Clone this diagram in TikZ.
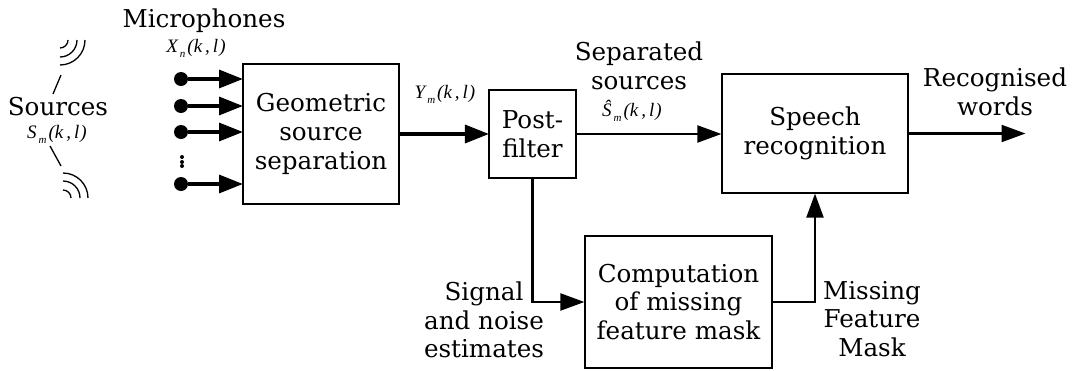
\documentclass[tikz,border=0pt]{standalone}
\usepackage{fontspec}
\setmainfont{DejaVu Serif}
\usetikzlibrary{arrows.meta}
\newfontfamily\mathlike{Liberation Serif}[Ligatures=TeX]
\newcommand{\txtsize}{\fontsize{24.6}{28.6}\selectfont}
\newcommand{\sigfn}[2]{{\fontsize{19}{20}\selectfont\mathlike\itshape #1\kern2pt\raisebox{-5pt}{\fontsize{11}{12}\selectfont #2}\kern2pt(k\kern3pt,\kern3pt l\kern1pt)}}
\tikzset{
  x=1pt,y=-1pt,
  blockbox/.style={draw=black,line width=2.2pt,inner sep=0pt,align=center,font=\txtsize},
  lab/.style={inner sep=0pt,align=center,font=\txtsize},
  sig/.style={inner sep=0pt},
  thick arrow/.style={line width=3.4pt,-{Triangle[length=24pt,width=18pt]},shorten >=-1pt},
  flow/.style={line width=2.2pt,-{Triangle[length=24pt,width=17pt]},shorten >=-0.5pt},
  wave/.style={line width=1.3pt},
  micdot/.style={circle,fill=black,inner sep=0pt,minimum size=14pt},
  tiny dot/.style={circle,fill=black,inner sep=0pt,minimum size=4pt},
}
\begin{document}
\begin{tikzpicture}
\useasboundingbox (0,0) rectangle (1072,370);
\node[blockbox,minimum width=156pt,minimum height=140pt] (gss) at (321,134) {Geometric\\source\\separation};
\node[blockbox,minimum width=87pt,minimum height=88pt] (post) at (532.5,134) {Post-\\filter};
\node[blockbox,minimum width=186pt,minimum height=119pt] (sr) at (815,133.5) {Speech\\recognition};
\node[blockbox,minimum width=187pt,minimum height=132pt] (mask) at (678.5,302) {Computation\\of missing\\feature mask};

\node[lab] (mics) at (204,21) {Microphones};
\node[sig] (xn) at (196,48) {\sigfn{X}{n}};
\node[lab] (sources) at (58,107) {Sources};
\node[sig] (sm) at (57,134) {\sigfn{S}{m}};
\node[sig] (ym) at (445,94) {\sigfn{Y}{m}};
\node[lab] (sep) at (639,66) {Separated\\sources};
\node[sig] (shat) at (632,111) {\sigfn{Ŝ}{m}};
\node[lab] (words) at (995,92) {Recognised\\words};
\node[lab] (est) at (484,320) {Signal\\and noise\\estimates};
\node[lab] (mfm) at (872,319) {Missing\\Feature\\Mask};

% microphones
\foreach \n/\y in {a/79,b/106,c/132,d/184}{
  \node[micdot] (m\n) at (181,\y) {};
  \coordinate (e\n) at (242,\y);
  \draw[thick arrow] (m\n) -- (e\n);
}
\node[tiny dot] (d1) at (182,157) {};
\node[tiny dot] (d2) at (182,162) {};
\node[tiny dot] (d3) at (182,166) {};

% main flow
\draw[thick arrow] (gss.east) -- (post.west);
\draw[flow] (post.east) -- (sr.west |- post.east);
\coordinate (wordsend) at (1025,133.5);
\draw[flow] (sr.east) -- (wordsend);
\coordinate (pdrop) at (532.5,302);
\draw[flow] (post.south) -- (pdrop) -- (mask.west);
\coordinate (mturn) at (815,302);
\draw[flow] (mask.east) -- (mturn) -- (sr.south);

% source symbols
\draw[wave] (85,40) arc[start angle=0,end angle=90,radius=25];
\draw[wave] (77,40) arc[start angle=0,end angle=90,radius=17];
\draw[wave] (68,40) arc[start angle=0,end angle=90,radius=8];
\draw[wave] (63,173) arc[start angle=-90,end angle=0,radius=25];
\draw[wave] (63,181) arc[start angle=-90,end angle=0,radius=17];
\draw[wave] (63,190) arc[start angle=-90,end angle=0,radius=8];
\coordinate (l1a) at (61,75); \coordinate (l1b) at (53,94);
\coordinate (l2a) at (50,146); \coordinate (l2b) at (61,166);
\draw[wave] (l1a) -- (l1b);
\draw[wave] (l2a) -- (l2b);
\end{tikzpicture}
\end{document}
